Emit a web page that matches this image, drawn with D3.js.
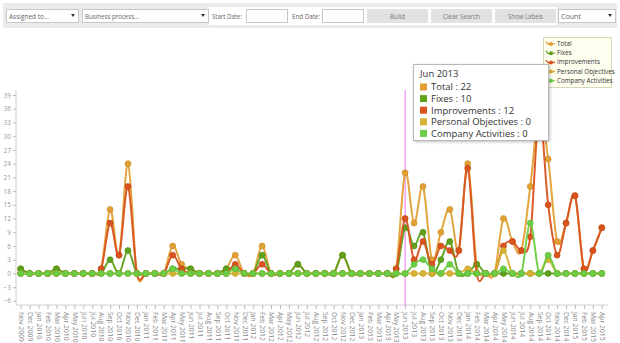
<!DOCTYPE html>
<html><head><meta charset="utf-8">
<script src="https://cdn.jsdelivr.net/npm/d3@7"></script>
<style>
html,body{margin:0;padding:0;background:#fff;}
svg{display:block;font-family:"Open Sans","Noto Sans",sans-serif;}
</style></head>
<body>
<svg id="c" width="620" height="343"></svg>
<script>
const months = ["Nov 2009","Dec 2009","Jan 2010","Feb 2010","Mar 2010","Apr 2010","May 2010","Jun 2010","Jul 2010","Aug 2010","Sep 2010","Oct 2010","Nov 2010","Dec 2010",
"Jan 2011","Feb 2011","Mar 2011","Apr 2011","May 2011","Jun 2011","Jul 2011","Aug 2011","Sep 2011","Oct 2011","Nov 2011","Dec 2011",
"Jan 2012","Feb 2012","Mar 2012","Apr 2012","May 2012","Jun 2012","Jul 2012","Aug 2012","Sep 2012","Oct 2012","Nov 2012","Dec 2012",
"Jan 2013","Feb 2013","Mar 2013","Apr 2013","May 2013","Jun 2013","Jul 2013","Aug 2013","Sep 2013","Oct 2013","Nov 2013","Dec 2013",
"Jan 2014","Feb 2014","Mar 2014","Apr 2014","May 2014","Jun 2014","Jul 2014","Aug 2014","Sep 2014","Oct 2014","Nov 2014","Dec 2014",
"Jan 2015","Feb 2015","Mar 2015","Apr 2015"];

const totalVals = [1,0,0,0,1,0,0,0,0,1,14,4,24,0, 0,0,0,6,2,1,0,0,0,1,4,0, 0,6,0,0,0,2,0,0,0,0,4,0, 0,0,0,0,1,22,11,19,3,9,14,5, 24,2,0,0,12,7,5,19,35,25,7,11, 17,1,5,10];
const fixesVals = [1,0,0,0,1,0,0,0,0,0,3,0,5,0, 0,0,0,1,1,1,0,0,0,1,1,0, 0,4,0,0,0,2,0,0,0,0,4,0, 0,0,0,0,0,10,6,9,0,3,7,0, 0,2,0,0,0,0,0,0,0,0,0,0, 0,0,0,0];
const improvementsVals = [0,0,0,0,0,0,0,0,0,1,11,4,19,0, 0,0,0,4,1,0,0,0,0,0,2,0, 0,2,0,0,0,0,0,0,0,0,0,0, 0,0,0,0,1,12,3,7,2,6,5,5, 23,0,0,0,6,7,5,8,35,15,4,11, 17,1,5,10];
const personalVals = [0,0,0,0,0,0,0,0,0,0,0,0,0,0, 0,0,0,0,0,0,0,0,0,0,0,0, 0,0,0,0,0,0,0,0,0,0,0,0, 0,0,0,0,0,0,0,0,0,0,0,0, 1,0,0,0,5,0,0,0,0,3,0,0, 0,0,0,0];
const companyVals = [0,0,0,0,0,0,0,0,0,0,0,0,0,0, 0,0,0,1,0,0,0,0,0,0,1,0, 0,0,0,0,0,0,0,0,0,0,0,0, 0,0,0,0,0,0,2,3,1,0,2,0, 0,0,0,0,1,0,0,11,0,4,0,0, 0,0,0,0];

const seriesNames = ["Total","Fixes","Improvements","Personal Objectives","Company Activities"];
const seriesColors = ["#e0a035","#5ea21c","#d9531f","#d8b233","#6ccd46"];
const seriesStroke = ["#c98a22","#4a8a12","#c04315","#bf9b25","#55b535"];
const seriesValues = [totalVals,fixesVals,improvementsVals,personalVals,companyVals];
const yTicks = [-6,-3,0,3,6,9,12,15,18,21,24,27,30,33,36,39];
const toolbarItems = ["Assigned to...","Business process...","Start Date:","End Date:","Build","Clear Search","Show Labels","Count"];
const tooltipMonth = "Jun 2013";

const svg = d3.select("#c");

// ---------- toolbar ----------
const tb = svg.append("g");
tb.append("rect").attr("x",3).attr("y",3).attr("width",614).attr("height",25).attr("fill","#ebebeb");
function tbText(x,label,w,anchor){
  const t = tb.append("text").attr("x",x).attr("y",19).attr("font-size",7).attr("fill","#666").text(label);
  if (anchor) t.attr("text-anchor",anchor);
  if (w) t.attr("textLength",w).attr("lengthAdjust","spacingAndGlyphs");
  return t;
}
function selectBox(x,w,label,tw){
  tb.append("rect").attr("x",x+0.5).attr("y",9.5).attr("width",w).attr("height",13).attr("fill","#fff").attr("stroke","#c8c8c8");
  tbText(x+3,label,tw);
  tb.append("path").attr("d",`M${x+w-7},14 l4,0 l-2,3 z`).attr("fill","#333");
}
selectBox(6,72,toolbarItems[0],40);
selectBox(82,126,toolbarItems[1],54);
tb.append("rect").attr("x",209).attr("y",7).attr("width",81).attr("height",18).attr("fill","#fff");
tbText(212,toolbarItems[2],30);
tb.append("rect").attr("x",246.5).attr("y",9.5).attr("width",41).attr("height",13).attr("fill","#fff").attr("stroke","#c8c8c8");
tb.append("rect").attr("x",290).attr("y",7).attr("width",75).attr("height",18).attr("fill","#fff");
tbText(292,toolbarItems[3],28);
tb.append("rect").attr("x",322.5).attr("y",9.5).attr("width",41).attr("height",13).attr("fill","#fff").attr("stroke","#c8c8c8");
tb.append("rect").attr("x",365).attr("y",7).attr("width",192).attr("height",18).attr("fill","#fff");
[[367,61,toolbarItems[4],15],[431,61,toolbarItems[5],37],[495,61,toolbarItems[6],35]].forEach(([x,w,l,tw])=>{
  tb.append("rect").attr("x",x).attr("y",9).attr("width",w).attr("height",14).attr("fill","#e2e2e2");
  tbText(x+w/2,l,tw,"middle").attr("fill","#777");
});
selectBox(558,57,toolbarItems[7],20);

// ---------- scales ----------
const x = d3.scalePoint().domain(months).range([20.7,601.8]);
const y = d3.scaleLinear().domain([-6.9,40.1]).range([305,90]);

// axes
const yAxis = d3.axisLeft(y).tickValues(yTicks).tickSize(3).tickPadding(2);
const ya = svg.append("g").attr("transform","translate(16,0)").call(yAxis);
ya.select(".domain").attr("stroke","#d0d0d0").attr("d","M0,90V305");
ya.selectAll(".tick line").attr("stroke","#bbb");
ya.selectAll(".tick text").attr("font-size",6.5).attr("fill","#999").attr("font-family","Open Sans, sans-serif");

const xAxis = d3.axisBottom(x).tickSize(4).tickPadding(3);
const xa = svg.append("g").attr("transform","translate(0,305)").call(xAxis);
xa.select(".domain").attr("stroke","#d0d0d0").attr("d","M16,0H608");
xa.selectAll(".tick line").attr("stroke","#bbb");
xa.selectAll(".tick text").attr("font-size",6.8).attr("fill","#888").attr("font-family","Open Sans, sans-serif")
  .attr("text-anchor","start").attr("dy","0.32em").attr("transform","translate(0,4) rotate(90)").attr("x",3).attr("y",0);

// cursor line
svg.append("line").attr("x1",x(tooltipMonth)).attr("x2",x(tooltipMonth)).attr("y1",90).attr("y2",306)
  .attr("stroke","#ee77ee").attr("stroke-width",1);

// ---------- series ----------
const line = d3.line().x((d,i)=>x(months[i])).y(d=>y(d)).curve(d3.curveCardinal.tension(0));
seriesValues.forEach((vals,k)=>{
  const g = svg.append("g");
  g.append("path").attr("d",line(vals)).attr("fill","none").attr("stroke",seriesColors[k]).attr("stroke-width",2).attr("opacity",0.95);
  g.selectAll("circle").data(vals).enter().append("circle")
    .attr("cx",(d,i)=>x(months[i])).attr("cy",d=>y(d)).attr("r",3)
    .attr("fill",seriesColors[k]).attr("stroke",seriesStroke[k]).attr("stroke-width",0.6);
});

// ---------- legend ----------
const lg = svg.append("g");
lg.append("rect").attr("x",543.5).attr("y",37.5).attr("width",68).attr("height",50).attr("fill","#fffff0").attr("stroke","#d8d8b8");
seriesNames.forEach((n,k)=>{
  const yy = 43.5 + k*9.2;
  lg.append("path").attr("d",`M546,${yy-2} q2,4 5,3 q2,0 4,-1`).attr("fill","none").attr("stroke",seriesColors[k]).attr("stroke-width",1.2);
  lg.append("circle").attr("cx",551).attr("cy",yy+0.5).attr("r",2).attr("fill",seriesColors[k]);
  lg.append("text").attr("x",557).attr("y",yy+2.5).attr("font-size",6.3).attr("fill","#333").text(n);
});

// ---------- tooltip ----------
const defs = svg.append("defs");
const f = defs.append("filter").attr("id","sh").attr("x","-10%").attr("y","-10%").attr("width","130%").attr("height","130%");
f.append("feDropShadow").attr("dx",1).attr("dy",1).attr("stdDeviation",1.5).attr("flood-color","#000").attr("flood-opacity",0.25);
const ti = months.indexOf(tooltipMonth);
const tt = svg.append("g");
tt.append("rect").attr("x",413.5).attr("y",64.5).attr("width",135).attr("height",76).attr("fill","#fff").attr("stroke","#b8b8b8").attr("filter","url(#sh)");
tt.append("text").attr("x",420).attr("y",77).attr("font-size",9.5).attr("fill","#333").text(tooltipMonth);
seriesNames.forEach((n,k)=>{
  const yy = 87 + k*11.6;
  tt.append("rect").attr("x",420).attr("y",yy-3.5).attr("width",7).attr("height",7).attr("fill",seriesColors[k]);
  tt.append("text").attr("x",431).attr("y",yy+3.3).attr("font-size",9.5).attr("fill","#333").text(`${n} : ${seriesValues[k][ti]}`);
});
</script>
</body></html>
